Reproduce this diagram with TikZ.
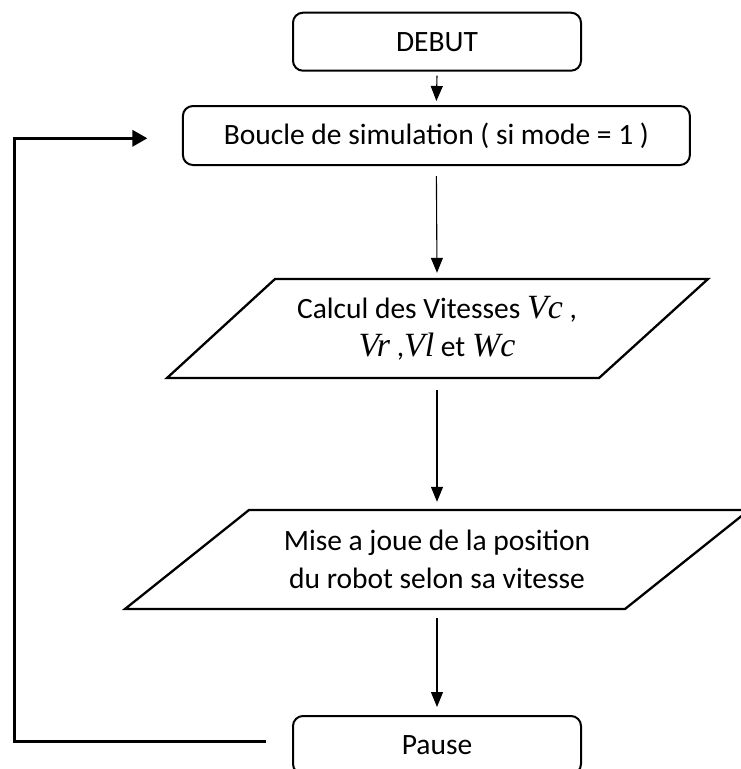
\documentclass[tikz,border=0pt]{standalone}
\usepackage{fontspec}
\setmainfont{Carlito}
\newfontfamily\varfont{Liberation Serif}[Scale=1.15]
\usetikzlibrary{arrows.meta,calc}
% italic variable names such as Vc, Vr
\newcommand\varname[1]{{\varfont\itshape #1}}
\begin{document}
\begin{tikzpicture}[x=1pt,y=1pt,
  every node/.style={font=\fontsize{29.5}{38}\selectfont, align=center},
  termbox/.style={draw, line width=2pt, rounded corners=10pt,
    minimum width=288pt, minimum height=58pt, inner sep=0pt},
  slot/.style={inner sep=0pt, minimum height=99pt},
  para/.style={draw, line width=2.3pt, line join=miter},
  flow/.style={line width=1.1pt, -{Triangle[length=15pt,width=12pt]}},
  feedback/.style={line width=3.2pt, line join=miter,
    -{Triangle[length=15pt,width=16pt]}}]
\useasboundingbox (0,0) rectangle (741,-769);
\fill[white] (0,0) rectangle (741,-769);

% start and loop header
\node[termbox] (debut) at (437,-41.7) {DEBUT};
\node[termbox, minimum width=507pt, minimum height=59pt] (boucle)
  at (436.4,-135.5) {Boucle de simulation ( si mode = 1 )};

% speed computation
\node[slot] (calcul) at (437,-328.5)
  {Calcul des Vitesses \varname{Vc} ,\\ \varname{Vr} ,\varname{Vl} et \varname{Wc}};
\draw[para] ($(calcul)+(-162,49.5)$) -- ($(calcul)+(271,49.5)$)
  -- ($(calcul)+(162,-49.5)$) -- ($(calcul)+(-270,-49.5)$) -- cycle;

% position update
\node[slot] (maj) at (437,-559.5)
  {Mise a joue de la position\\ du robot selon sa vitesse};
\draw[para] ($(maj)+(-188,49.5)$) -- ($(maj)+(312,49.5)$)
  -- ($(maj)+(188,-49.5)$) -- ($(maj)+(-312,-49.5)$) -- cycle;

% pause
\node[termbox] (pause) at (437,-745) {Pause};

% main flow
\draw[flow] ([yshift=-4pt]debut.south) -- ([yshift=4pt]boucle.north);
\draw[flow] ([yshift=-10pt]boucle.south) -- ([yshift=6pt]calcul.north);
\draw[flow] ([yshift=-12pt]calcul.south) -- ([yshift=8pt]maj.north);
\draw[flow] ([yshift=-9pt]maj.south) -- ([yshift=8pt]pause.north);

% loop back
\draw[feedback] ([xshift=-26pt,yshift=3.3pt]pause.west) -- ++(-251.7,0)
  |- ([xshift=-34.5pt,yshift=-2.8pt]boucle.west);
\end{tikzpicture}
\end{document}
